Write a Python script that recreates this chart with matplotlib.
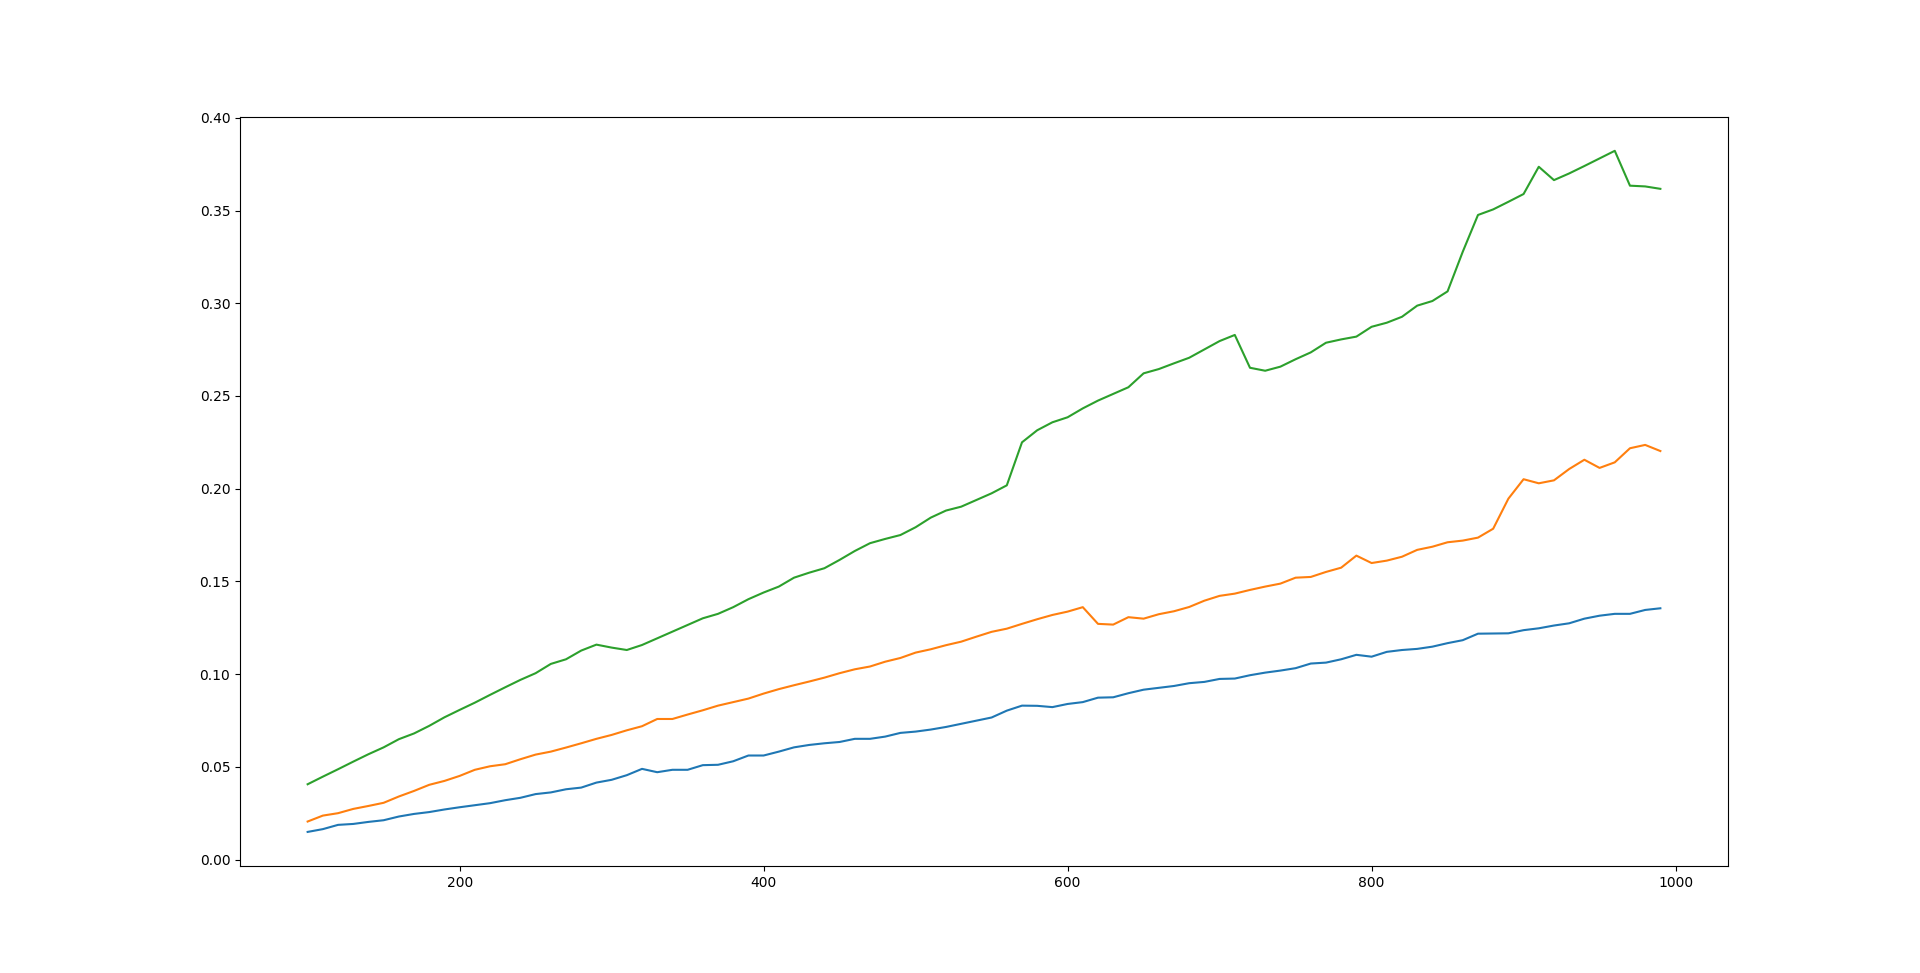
import numpy as np
import matplotlib
matplotlib.use("Agg")
import matplotlib.pyplot as plt

# x positions, 100 .. 990
sizes = list(range(100, 1000, 10))

blue = [0.0149, 0.0164, 0.0187, 0.0192, 0.0203, 0.0212, 0.0232, 0.0246, 0.0256, 0.0270,
        0.0282, 0.0293, 0.0304, 0.0320, 0.0333, 0.0353, 0.0362, 0.0379, 0.0388, 0.0415,
        0.0430, 0.0455, 0.0489, 0.0471, 0.0484, 0.0484, 0.0509, 0.0511, 0.0530, 0.0561,
        0.0561, 0.0582, 0.0605, 0.0618, 0.0627, 0.0634, 0.0651, 0.0651, 0.0663, 0.0683,
        0.0690, 0.0701, 0.0715, 0.0732, 0.0749, 0.0766, 0.0803, 0.0830, 0.0829, 0.0822,
        0.0839, 0.0849, 0.0873, 0.0875, 0.0897, 0.0916, 0.0926, 0.0936, 0.0951, 0.0958,
        0.0974, 0.0976, 0.0994, 0.1008, 0.1019, 0.1032, 0.1057, 0.1062, 0.1080, 0.1104,
        0.1094, 0.1120, 0.1130, 0.1136, 0.1148, 0.1167, 0.1183, 0.1218, 0.1219, 0.1220,
        0.1237, 0.1247, 0.1262, 0.1274, 0.1299, 0.1315, 0.1325, 0.1325, 0.1346, 0.1355]

orange = [0.0205, 0.0237, 0.0250, 0.0273, 0.0289, 0.0306, 0.0340, 0.0370, 0.0403, 0.0424,
          0.0451, 0.0484, 0.0503, 0.0514, 0.0541, 0.0566, 0.0582, 0.0604, 0.0627, 0.0651,
          0.0672, 0.0697, 0.0719, 0.0758, 0.0758, 0.0782, 0.0805, 0.0830, 0.0849, 0.0868,
          0.0895, 0.0919, 0.0940, 0.0960, 0.0981, 0.1005, 0.1026, 0.1041, 0.1067, 0.1087,
          0.1116, 0.1134, 0.1156, 0.1175, 0.1202, 0.1228, 0.1245, 0.1271, 0.1296, 0.1319,
          0.1337, 0.1361, 0.1271, 0.1267, 0.1307, 0.1299, 0.1323, 0.1339, 0.1362, 0.1396,
          0.1422, 0.1434, 0.1454, 0.1472, 0.1488, 0.1520, 0.1524, 0.1551, 0.1574, 0.1639,
          0.1599, 0.1612, 0.1633, 0.1670, 0.1687, 0.1711, 0.1720, 0.1736, 0.1784, 0.1946,
          0.2051, 0.2029, 0.2045, 0.2106, 0.2156, 0.2112, 0.2142, 0.2218, 0.2236, 0.2203]

green = [0.0406, 0.0447, 0.0487, 0.0528, 0.0568, 0.0605, 0.0649, 0.0680, 0.0721, 0.0767,
         0.0807, 0.0846, 0.0888, 0.0929, 0.0969, 0.1005, 0.1055, 0.1080, 0.1127, 0.1159,
         0.1143, 0.1130, 0.1157, 0.1193, 0.1229, 0.1265, 0.1301, 0.1325, 0.1361, 0.1404,
         0.1440, 0.1472, 0.1520, 0.1547, 0.1571, 0.1616, 0.1664, 0.1706, 0.1729, 0.1750,
         0.1792, 0.1844, 0.1882, 0.1903, 0.1939, 0.1975, 0.2018, 0.2250, 0.2315, 0.2358,
         0.2385, 0.2433, 0.2475, 0.2511, 0.2547, 0.2622, 0.2645, 0.2676, 0.2706, 0.2751,
         0.2796, 0.2829, 0.2652, 0.2636, 0.2658, 0.2698, 0.2735, 0.2787, 0.2805, 0.2820,
         0.2873, 0.2895, 0.2927, 0.2987, 0.3012, 0.3064, 0.3278, 0.3476, 0.3506, 0.3547,
         0.3589, 0.3736, 0.3664, 0.3700, 0.3740, 0.3781, 0.3822, 0.3634, 0.3630, 0.3617]

fig = plt.figure(figsize=(19.2, 9.73), dpi=100)
plt.plot(sizes, blue)
plt.plot(sizes, orange)
plt.plot(sizes, green)
plt.savefig('out.png')
